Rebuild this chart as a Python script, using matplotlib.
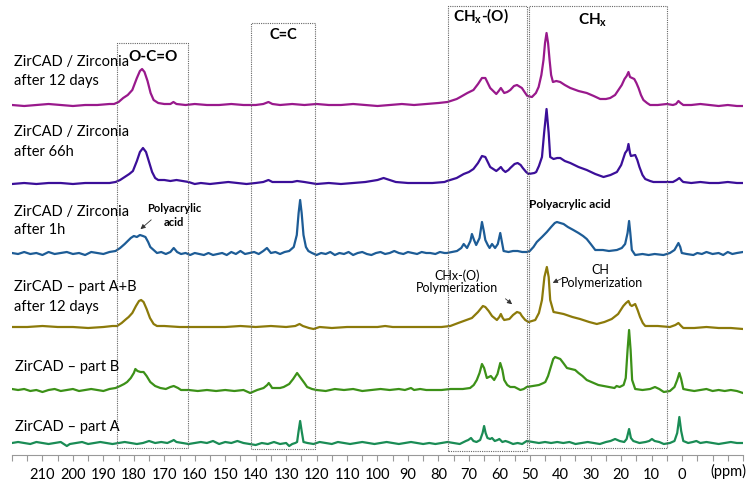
import numpy as np
import matplotlib
matplotlib.use('Agg')
import matplotlib.pyplot as plt

plt.rcParams['font.family'] = ['Lato', 'DejaVu Sans']
plt.rcParams['mathtext.fontset'] = 'custom'
plt.rcParams['mathtext.rm'] = 'Lato'
plt.rcParams['mathtext.bf'] = 'Lato:bold'

# spectra: (ppm, intensity above baseline)
zircad_zr_12d = [(220,0),(216,-1),(212,0),(208,1),(204,0),(200,-1),(196,0),(192,0),(188,1),(186.5,1),(185,3),(183.5,7),(182,10),(180.5,15),(179,27),(178,34),(177.3,36),(176.5,33),(175.5,24),(174.5,12),(173.5,5),(172,2),(170,1),(168,1),(167,3),(166,1),(163,0),(160,1),(156,0),(152,0),(148,1),(144,0),(140,0),(137.5,1),(135.8,3),(134.5,1),(132,0),(128,1),(124,0),(120,1),(116,0),(112,0),(108,1),(104,0),(100,-1),(96,0),(92,1),(88,0),(84,1),(80,2),(77,3),(74,6),(72.8,8),(70.5,12),(68.5,15),(67,21),(65.7,27),(64.6,27),(63.8,22),(63,17),(61,11),(60.2,14),(59.5,17),(58.4,12),(57.4,13),(56.4,15),(55.2,19),(54.2,20),(52.6,17),(51.5,12),(50.8,9),(49.3,8),(48,12),(47.1,18),(46.2,30),(45.5,45),(45,62),(44.5,72),(44,62),(43.5,45),(43,30),(42.4,23),(41.3,24),(40,23),(38.5,20),(36.7,17),(34,14),(31.3,12),(29,9),(26.9,6),(25,6),(23.6,7),(22,10),(20.9,15),(19.8,20),(18.9,26),(18.2,29),(17.6,33),(17.1,28),(16.4,27),(15.7,26),(15,22),(14.3,17),(13.5,10),(12.7,5),(11.5,2),(10.5,0),(8,0),(5,1),(3,0),(2,1),(1.2,4),(0.5,2),(-0.4,0),(-3,0),(-6,1),(-9,0),(-12,-1),(-15,0),(-18,-1),(-20,-1)]

zircad_zr_66h = [(220,-1),(216,0),(212,-1),(208,0),(204,0),(200,-1),(196,0),(192,0),(188,0),(186,1),(184.5,3),(183,6),(181.5,9),(180.3,12),(179,22),(178,31),(177,35),(176,31),(175,21),(174,11),(173,5),(172,3),(170,3),(168,2),(166,3),(164,2),(162,1),(160,-1),(158,0),(155,-1),(152,0),(149,1),(146,0),(143,-1),(140,0),(137.5,1),(135.8,3),(134.5,1),(131,1),(128,1),(126.4,2),(124,1),(120,-1),(116,0),(112,-1),(108,0),(104,1),(100,3),(98,5),(96,3),(94,1),(90,0),(86,0),(82,0),(78,1),(77.2,2),(74,5),(71.7,9),(70,11),(68.5,14),(67,20),(65.7,27),(64.6,26),(63.8,21),(63,16),(61,12),(60.2,14),(59.5,16),(58.8,13),(58,11),(57,13),(56.4,15),(55,19),(54,20),(53,18),(52.3,15),(51.2,11),(50.4,9),(48.5,10),(47.9,11),(47,17),(46,26),(45.3,50),(44.5,74),(43.8,50),(43.3,26),(42.2,24),(41,25),(40,25),(38.5,22),(36.7,20),(34,16),(31.3,13),(28.5,9),(25.8,6),(23.5,8),(21.4,11),(20,18),(18.7,30),(18,33),(17.6,39),(17.1,30),(16.8,27),(15.4,28),(14.7,23),(14,16),(13,8),(12.1,4),(10.5,2),(9.4,1),(6,1),(3,1),(1.8,3),(0.9,5),(0,2),(-0.4,1),(-3,0),(-6,1),(-9,0),(-12,0),(-15,1),(-18,0),(-20,0)]

zircad_zr_1h = [(220,0),(218,-1),(216,1),(214,-1),(212,0),(210,-2),(208,1),(206,-1),(204,0),(202,1),(200,-1),(198,0),(196,-2),(194,1),(192,0),(190,-1),(188,1),(186,2),(184.5,5),(183,9),(182,12),(181,15),(180,17),(179,16),(178,18),(177,17),(176.2,16),(175.3,11),(174.6,6),(173.5,3),(172.4,0),(171,1),(169.5,-1),(168,1),(166.9,5),(165.8,1),(164.5,-1),(163,0),(161.5,-2),(160,0),(158.5,-1),(157,-2),(155.5,0),(154,-2),(152.5,-1),(151,0),(149.5,-2),(148,1),(146.5,-1),(145,2),(143.5,-1),(142,0),(140.5,1),(139,-1),(137.5,2),(136.3,5),(135,0),(133.5,1),(132,-1),(130.5,1),(129,2),(127.5,6),(126.5,18),(125.9,40),(125.4,53),(124.9,40),(124.3,18),(123.5,6),(122.7,2),(121.5,0),(120,-2),(118.5,0),(117,-1),(115.5,1),(114,-2),(112.5,0),(111,-1),(109.5,1),(108,-2),(106.5,0),(105,1),(103.5,-1),(102,-2),(100.5,0),(99,1),(97.5,-1),(96,0),(94.5,2),(93,0),(91.5,-1),(90,1),(88.5,0),(87,-1),(85.5,1),(84,0),(82.7,0),(81,-1),(79.5,1),(78,0),(77.2,0),(75.5,1),(73.9,2),(72.5,5),(71.7,9),(70.6,5),(69.5,12),(69,19),(68.3,13),(67.6,8),(66.5,15),(65.7,31),(65.1,22),(64.6,13),(63.8,8),(63.2,5),(62.4,9),(61.4,5),(60.5,9),(59.7,20),(59.1,10),(58.6,2),(57,1),(55.5,2),(54,2),(52.5,1),(51,1),(50,2),(48.8,6),(47.7,11),(46,16),(44.4,21),(43,26),(41.8,30),(41.1,31),(40,30),(38.9,29),(37.5,26),(35.7,23),(34,20),(32.5,17),(31.3,14),(30,9),(28.5,3),(26,3),(24,2),(21.4,3),(19.8,5),(18.7,9),(17.9,20),(17.4,32),(17,20),(16.5,3),(15.4,-2),(13,-1),(11,-2),(9,-1),(6.1,-2),(4,0),(2.5,3),(1.6,8),(1.2,10),(0.6,6),(0.1,0),(-1.5,-1),(-3.7,-2),(-5,0),(-6.5,-1),(-8,1),(-10,-1),(-12,0),(-13.5,-2),(-15,1),(-16.5,-1),(-18,0),(-20,1)]

zircad_ab_12d = [(220,0),(215,0),(210,1),(205,0),(200,0),(195,-1),(190,0),(187,1),(185.5,1),(184,4),(182.5,8),(181.7,10),(180.5,14),(179.3,21),(178.3,26),(177.6,27),(176.8,25),(175.8,18),(174.7,9),(173.5,3),(172.4,1),(170,1),(165,0),(160,0),(155,0),(150,0),(145,1),(140,0),(135,1),(130,0),(127,1),(125.6,3),(124.5,1),(122.5,-1),(121,-2),(119,0),(115,-1),(110,0),(105,0),(100,0),(97.5,1),(95,0),(90,0),(85,0),(82.7,0),(79,0),(76.1,1),(73.5,4),(71.7,6),(69,9),(67,15),(65.4,21),(64.6,20),(63.5,16),(62.4,11),(60.8,7),(60,10),(59.5,13),(58.9,9),(58.4,7),(56.7,8),(55.5,12),(54.2,15),(53.2,14),(52.6,11),(51.5,7),(50.4,5),(48.2,7),(47,14),(46,27),(45.2,50),(44.4,60),(43.8,50),(43.3,27),(42.2,15),(40.5,14),(38.9,13),(36,10),(33.5,8),(30.5,5),(28,3),(25.5,5),(23.1,8),(21,13),(19.3,21),(18.4,24),(17.6,26),(17,22),(16.5,21),(15.4,23),(14.6,17),(13.8,10),(12.9,4),(12.1,1),(8,1),(4,0),(2.2,2),(1.2,4),(0.3,1),(-0.4,-1),(-4,-1),(-8,0),(-12,-1),(-16,-1),(-20,-2)]

zircad_b = [(220,1),(218,0),(216,1),(214,-1),(212,0),(210,-2),(208,0),(206,1),(204,-1),(202,0),(200,1),(198,-1),(196,0),(194,1),(192,0),(190,-1),(188,1),(186,2),(184.5,4),(183.2,6),(182.2,8),(181,12),(180,17),(179.5,21),(178.8,19),(177.8,18),(176.8,18),(175.8,14),(174.6,8),(173,4),(171.3,2),(169.5,1),(168,3),(166.9,4),(165.5,2),(164.5,0),(162,0),(159,-1),(156,0),(153,-1),(150,0),(147,-1),(144,0),(141.8,-3),(139.5,0),(137.4,2),(136.2,5),(135.7,7),(135,4),(134.6,2),(132,2),(130.8,3),(129,6),(127.7,11),(126.4,17),(125.2,12),(124,7),(123.1,3),(121.5,1),(120,0),(117,-1),(114,1),(111,0),(108,1),(105,-1),(102,0),(99,1),(96,0),(93,1),(91,0),(89,2),(88,0),(86,1),(84,0),(82,0),(79,0),(76,1),(72,1),(69.6,2),(68.4,5),(67.4,10),(66.5,17),(65.7,26),(65,22),(64.1,12),(62.8,14),(61.7,10),(60.6,16),(59.7,27),(59,20),(58.4,10),(57.4,5),(56.4,3),(55,3),(53.1,0),(52,1),(51,3),(49,4),(47,5),(45.5,7),(44.9,8),(44,14),(43,24),(42.3,31),(41.7,33),(40.8,32),(40,31),(39,27),(37.8,22),(36.5,21),(35.1,20),(34,17),(32.7,14),(31.3,10),(29,7),(27.5,5),(25.8,4),(24,3),(22.2,2),(21.5,4),(20.5,3),(19.2,5),(18.5,12),(17.9,40),(17.4,60),(16.9,40),(16.4,10),(15.4,1),(13,0),(10.5,1),(8.9,3),(7.5,1),(6,-2),(4,-1),(2.5,3),(1.6,10),(0.9,17),(0.3,11),(-0.4,1),(-2,0),(-4,-1),(-6,0),(-8,1),(-10,-1),(-12,0),(-14,-1),(-16,0),(-18,-1),(-20,-3)]

zircad_a = [(220,0),(218,1),(216,0),(214,-1),(212,1),(210,0),(208,-1),(206,0),(204,1),(202,-3),(201,-1),(199,0),(197,1),(195,-1),(193,0),(191,1),(189,0),(187,-1),(185,0),(183,1),(181,0),(179,-1),(177,0),(175,2),(173,0),(171,1),(169,0),(167.5,2),(166.9,3),(166,1),(164,0),(162,-1),(160,0),(158,1),(156,0),(154,2),(152,-1),(150,1),(148,0),(146,2),(144,0),(142,-1),(140,-2),(138,0),(136,-1),(134,1),(132,-1),(130,0),(129,-3),(128,-1),(127,0),(126.4,1),(125.9,12),(125.4,22),(124.9,12),(124.3,1),(123,0),(121,-1),(119,1),(117,0),(115,-1),(113,1),(111,0),(109,-1),(107,0),(105,1),(103,0),(101,-1),(99,0),(97,1),(95,0),(93,-1),(91,0),(89,1),(87,0),(85,-1),(83,0),(81,-1),(79,0),(77,1),(75,0),(73,-1),(71,2),(70.2,3),(69.3,5),(68.5,2),(67.5,1),(66.3,3),(65.5,10),(65,17),(64.5,10),(63.9,5),(63,4),(62.4,5),(61.5,2),(60.6,3),(60,4),(59,1),(58,2),(57,1),(55.5,-1),(54,0),(52.5,-1),(51,2),(49,1),(47,0),(45,1),(43,0),(41,1),(39,0),(37,1),(35,-1),(33,0),(31,1),(29,0),(27,-1),(25,1),(23.5,2),(22,4),(20.5,2),(19,1),(18.2,4),(17.4,14),(16.8,5),(16,2),(14,0),(12,1),(10.8,2),(9.9,4),(9,2),(7.5,1),(6,-1),(4,0),(2.5,2),(1.6,10),(0.9,26),(0.3,12),(-0.4,2),(-2,0),(-3.5,1),(-4.7,2),(-6,0),(-8,1),(-10,0),(-12,-1),(-14,0),(-16,1),(-18,0),(-20,0)]

spectra = [zircad_zr_12d, zircad_zr_66h, zircad_zr_1h, zircad_ab_12d, zircad_b, zircad_a]
labels = [["ZirCAD / Zirconia", "after 12 days"],
          ["ZirCAD / Zirconia", "after 66h"],
          ["ZirCAD / Zirconia", "after 1h"],
          ["ZirCAD \u2013 part A+B", "after 12 days"],
          ["ZirCAD \u2013 part B"],
          ["ZirCAD \u2013 part A"]]
colors = ['#99198c', '#3b0f99', '#1d5c96', '#8c7a0a', '#3c9118', '#1a8c55']

# region boxes: (ppm left, ppm right, label)
regions = [(185.5, 162.3, "O-C=O"),
           (141.5, 120.4, "C=C"),
           (77.0, 51.0, r"CH$_\mathbf{x}$-(O)"),
           (50.4, 5.1, r"CH$_\mathbf{x}$")]

fig = plt.figure(figsize=(7.56, 4.86), dpi=100)
# 1 y-unit = 1 pixel
ax = fig.add_axes([12/756, 31/486, 731/756, 455/486])
ax.set_xlim(219.8, -19.9)
ax.set_ylim(0, 455)

offsets = [350, 272, 202, 128, 65, 12]
label_y = [(393, 374), (323, 303), (243, 225), (168, 148), (88,), (28,)]
for spec, off, c, lab, ly in zip(spectra, offsets, colors, labels, label_y):
    d = np.array(spec, dtype=float)
    ax.plot(d[:, 0], d[:, 1] + off, color=c, lw=1.6, solid_joinstyle='round')
    for t, y in zip(lab, ly):
        ax.text(219.3 if len(lab) > 1 else 219.0, y, t, fontsize=10.5, va='center', ha='left')

box_tops = [412, 432, 449, 449]
box_bottoms = [7, 6, 4, 7]
label_pos = [(173.6, 398, 11), (130.9, 420, 10.5), (65.9, 439, 11), (29.2, 435, 11)]
for (l, r, name), top, bot, (lx, ly, fs) in zip(regions, box_tops, box_bottoms, label_pos):
    ax.plot([l, l, r, r, l], [bot, top, top, bot, bot], ls=(0, (1, 1)), color='#666666', lw=0.8)
    ax.text(lx, ly, name, fontsize=fs, fontweight='bold', ha='center', va='center')

# annotations
ax.text(166.7, 246, "Polyacrylic", fontsize=8, fontweight='bold', ha='center', va='center')
ax.text(166.7, 232, "acid", fontsize=8, fontweight='bold', ha='center', va='center')
ax.annotate("", xy=(178.5, 224), xytext=(173.6, 237),
            arrowprops=dict(arrowstyle='-|>', color='#333333', lw=0.6, mutation_scale=7))
ax.text(36.7, 250, "Polyacrylic acid", fontsize=8.5, fontweight='bold', ha='center', va='center')
ax.text(73.9, 179, "CHx-(O)", fontsize=9, ha='center', va='center')
ax.text(73.9, 167, "Polymerization", fontsize=9, ha='center', va='center')
ax.annotate("", xy=(55.1, 149), xytext=(58.7, 158),
            arrowprops=dict(arrowstyle='-|>', color='#333333', lw=0.6, mutation_scale=7))
ax.text(26.7, 185, "CH", fontsize=9, ha='center', va='center')
ax.text(26.2, 172, "Polymerization", fontsize=9, ha='center', va='center')
ax.annotate("", xy=(43.3, 171), xytext=(38.4, 178),
            arrowprops=dict(arrowstyle='-|>', color='#333333', lw=0.6, mutation_scale=7))

# axis styling
for s in ['top', 'left', 'right']:
    ax.spines[s].set_visible(False)
ax.spines['bottom'].set_color('#999999')
ax.set_yticks([])
ax.set_xticks(np.arange(210, -1, -10))
ax.set_xticks(np.arange(220, -21, -5), minor=True)
ax.tick_params(axis='x', which='both', direction='out', color='#999999', length=4, width=0.8)
ax.tick_params(axis='x', which='major', labelsize=10.5, pad=5)
ax.text(-15.1, -16, "(ppm)", fontsize=10.5, ha='center', va='center', clip_on=False)

fig.savefig('out.png', dpi=100)
